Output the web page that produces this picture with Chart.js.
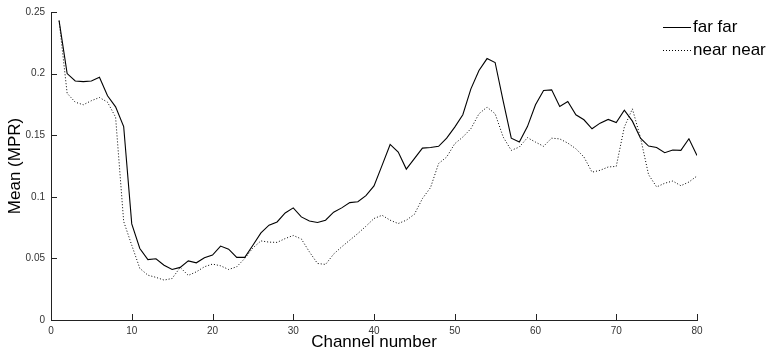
<!DOCTYPE html>
<html>
<head>
<meta charset="utf-8">
<script src="https://cdn.jsdelivr.net/npm/chart.js@4.4.1/dist/chart.umd.min.js"></script>
<style>
  html, body { margin: 0; padding: 0; background: #fff; }
  #chart { display: block; }
</style>
</head>
<body>
<canvas id="chart" width="769" height="351"></canvas>
<script>
// kênh 1..80
const channels = [];
for (let i = 1; i <= 80; i++) channels.push(i);

const seriesNames = ["far far", "near near"];

const farFar = [
  0.243, 0.200, 0.194, 0.1935, 0.194, 0.197, 0.182, 0.173, 0.157, 0.078,
  0.058, 0.049, 0.0497, 0.0445, 0.041, 0.0427, 0.048, 0.0464, 0.0505, 0.0527,
  0.060, 0.0575, 0.0508, 0.0508, 0.0607, 0.0707, 0.077, 0.0796, 0.0869, 0.091,
  0.0837, 0.0804, 0.0791, 0.081, 0.0875, 0.091, 0.0953, 0.096, 0.101, 0.1088,
  0.1255, 0.1425, 0.1363, 0.1225, 0.131, 0.1395, 0.140, 0.141, 0.1476, 0.1566,
  0.1666, 0.1876, 0.2025, 0.2122, 0.209, 0.1776, 0.1476, 0.1444, 0.157, 0.1747,
  0.1863, 0.1868, 0.1733, 0.1774, 0.1666, 0.1625, 0.1552, 0.1598, 0.1628, 0.1603,
  0.1703, 0.1614, 0.1476, 0.1412, 0.140, 0.1358, 0.138, 0.1377, 0.1471, 0.1336
];

const nearNear = [
  0.243, 0.184, 0.1768, 0.1747, 0.178, 0.1806, 0.1768, 0.1646, 0.080, 0.0607,
  0.0419, 0.0364, 0.0346, 0.0324, 0.0337, 0.0427, 0.0362, 0.0391, 0.0432, 0.0454,
  0.044, 0.041, 0.0432, 0.050, 0.0585, 0.0642, 0.0632, 0.063, 0.0661, 0.0686,
  0.0658, 0.0553, 0.0459, 0.0451, 0.0535, 0.0594, 0.0648, 0.0702, 0.0761, 0.0824,
  0.085, 0.081, 0.0783, 0.081, 0.0858, 0.0986, 0.1075, 0.127, 0.1323, 0.1431,
  0.1485, 0.1553, 0.1674, 0.1728, 0.1674, 0.1485, 0.1377, 0.1404, 0.148, 0.1444,
  0.141, 0.1476, 0.147, 0.1436, 0.139, 0.1323, 0.120, 0.1215, 0.1242, 0.1247,
  0.1566, 0.1714, 0.148, 0.118, 0.108, 0.111, 0.1128, 0.109, 0.112, 0.1169
];

const xTicks = [0, 10, 20, 30, 40, 50, 60, 70, 80];
const yTicks = [0, 0.05, 0.1, 0.15, 0.2, 0.25];

const axisColor = "#222";

// Vạch chia hướng vào trong (kiểu MATLAB)
const innerTicks = {
  id: "innerTicks",
  afterDraw(chart) {
    const ctx = chart.ctx;
    const xs = chart.scales.x, ys = chart.scales.y;
    ctx.save();
    ctx.strokeStyle = axisColor;
    ctx.lineWidth = 1;
    ctx.beginPath();
    xTicks.forEach(v => {
      const px = Math.round(xs.getPixelForValue(v)) + 0.5;
      ctx.moveTo(px, ys.bottom);
      ctx.lineTo(px, ys.bottom - 6);
    });
    yTicks.forEach(v => {
      const py = Math.round(ys.getPixelForValue(v)) + 0.5;
      ctx.moveTo(xs.left, py);
      ctx.lineTo(xs.left + 6, py);
    });
    ctx.stroke();
    ctx.restore();
  }
};

// Chú thích ở góc trên bên phải
const cornerLegend = {
  id: "cornerLegend",
  afterDraw(chart) {
    const ctx = chart.ctx;
    ctx.save();
    ctx.font = "17px 'Liberation Sans', Arial, sans-serif";
    ctx.textBaseline = "middle";
    ctx.fillStyle = "#000";
    chart.data.datasets.forEach((ds, i) => {
      const y = 27.5 + i * 23;
      ctx.strokeStyle = ds.borderColor;
      ctx.lineWidth = 1;
      ctx.setLineDash(ds.borderDash || []);
      ctx.beginPath();
      ctx.moveTo(663, y);
      ctx.lineTo(691, y);
      ctx.stroke();
      ctx.setLineDash([]);
      ctx.fillText(ds.label, 693, y);
    });
    ctx.restore();
  }
};

const ctx = document.getElementById("chart").getContext("2d");
const chart = new Chart(ctx, {
  type: "line",
  data: {
    datasets: [
      {
        label: seriesNames[0],
        data: channels.map((c, i) => ({ x: c, y: farFar[i] })),
        borderColor: "#000",
        borderWidth: 1.1,
        pointRadius: 0,
        tension: 0,
      },
      {
        label: seriesNames[1],
        data: channels.map((c, i) => ({ x: c, y: nearNear[i] })),
        borderColor: "#000",
        borderWidth: 1,
        borderDash: [1, 2],
        pointRadius: 0,
        tension: 0,
      },
    ],
  },
  options: {
    responsive: false,
    animation: false,
    layout: { padding: { top: 11, right: 72, left: 0, bottom: 0 } },
    plugins: {
      legend: { display: false },
      tooltip: { enabled: false },
    },
    scales: {
      x: {
        type: "linear",
        min: 0,
        max: 80,
        afterBuildTicks: s => { s.ticks = xTicks.map(v => ({ value: v })); },
        afterFit: s => { s.height = 31; },
        grid: { display: false, drawTicks: false },
        border: { display: true, color: axisColor, width: 1 },
        ticks: {
          padding: 5,
          color: "#333",
          font: { size: 10, family: "'Liberation Sans', Arial, sans-serif" },
          maxRotation: 0,
        },
        title: {
          display: true,
          text: "Channel number",
          color: "#000",
          padding: { top: 0, bottom: 0 },
          font: { size: 17, lineHeight: 1, family: "'Liberation Sans', Arial, sans-serif" },
        },
      },
      y: {
        type: "linear",
        min: 0,
        max: 0.25,
        afterBuildTicks: s => { s.ticks = yTicks.map(v => ({ value: v })); },
        afterFit: s => { s.width = 51; },
        grid: { display: false, drawTicks: false },
        border: { display: true, color: axisColor, width: 1 },
        ticks: {
          padding: 6,
          color: "#333",
          font: { size: 10, family: "'Liberation Sans', Arial, sans-serif" },
          callback: v => String(Math.round(v * 100) / 100),
        },
        title: {
          display: true,
          text: "Mean (MPR)",
          color: "#000",
          padding: { top: 7, bottom: 0 },
          font: { size: 17, lineHeight: 1, family: "'Liberation Sans', Arial, sans-serif" },
        },
      },
    },
  },
  plugins: [innerTicks, cornerLegend],
});
</script>
</body>
</html>
